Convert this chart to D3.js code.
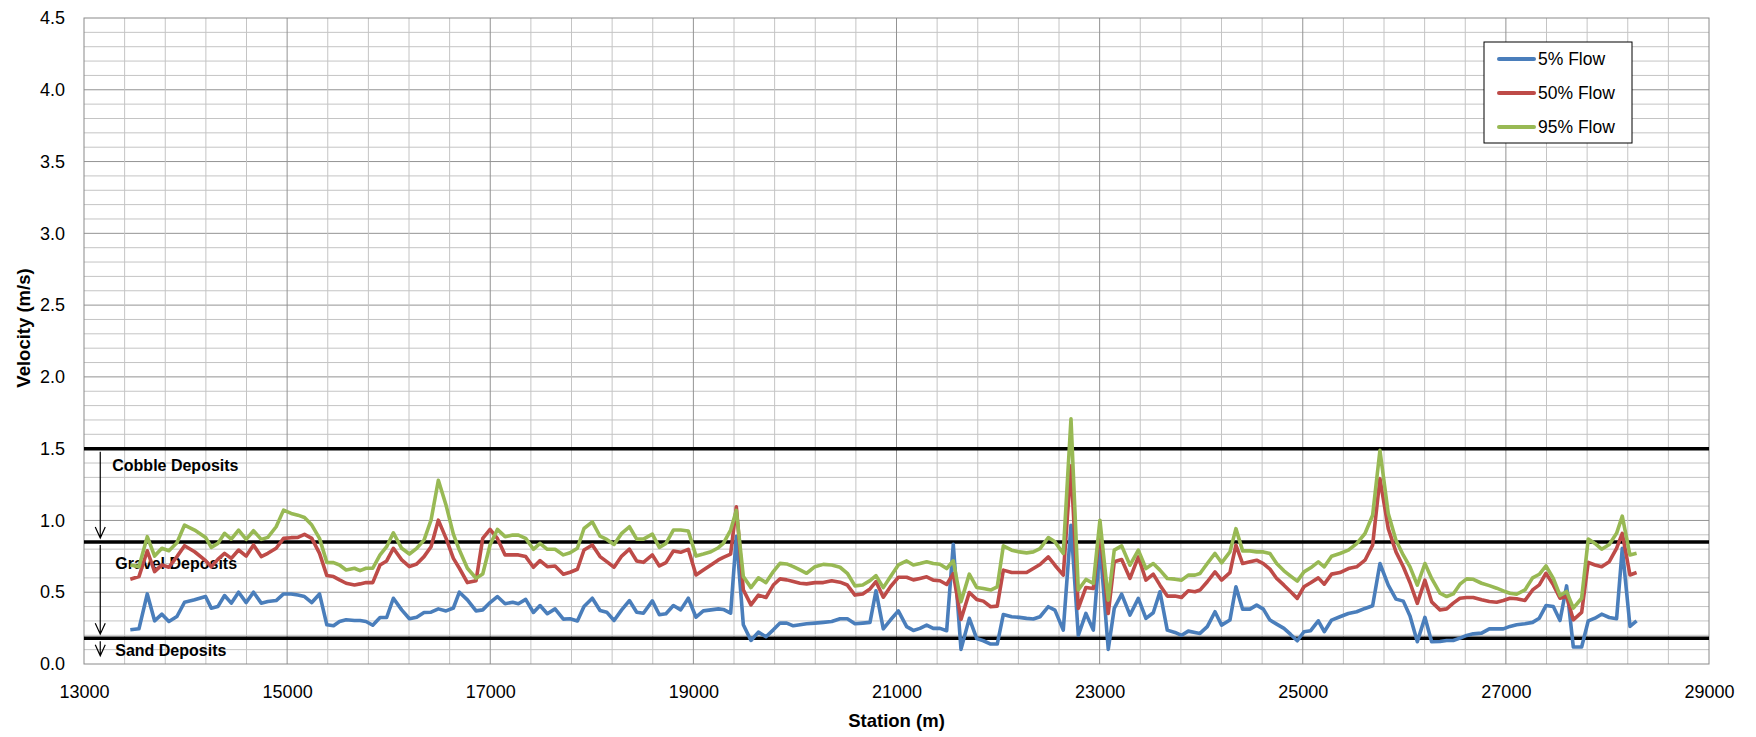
<!DOCTYPE html>
<html>
<head>
<meta charset="utf-8">
<script src="https://cdn.jsdelivr.net/npm/d3@7"></script>
<style>
  body { margin: 0; background: #fff; }
  text { font-family: 'Liberation Sans', Arial, sans-serif; }
</style>
</head>
<body>
<div class="chart"></div>
<script>
const stations = [
  13456, 13541, 13623, 13695, 13767, 13836, 13915, 13990, 14089, 14197, 14253, 14318, 14384, 14450, 14522, 14597,
  14669, 14745, 14810, 14892, 14965, 15040, 15106, 15171, 15243, 15319, 15391, 15457, 15516, 15581, 15663,
  15718, 15777, 15843, 15915, 15980, 16046, 16128, 16204, 16276, 16348, 16417, 16489, 16565, 16637, 16696, 16775,
  16860, 16926, 16998, 17070, 17146, 17221, 17277, 17349, 17425, 17490, 17562, 17638, 17720, 17786, 17858, 17923,
  18005, 18081, 18147, 18219, 18294, 18370, 18442, 18508,
  18596, 18665, 18730, 18803, 18875, 18950, 19026, 19098, 19173, 19246, 19295, 19367, 19423, 19492, 19567, 19640,
  19715, 19787, 19853, 19919, 19984, 20050, 20115, 20197, 20279, 20362, 20444, 20516, 20591, 20667, 20739, 20798,
  20870, 20942, 21018, 21100, 21166,
  21231, 21297, 21362, 21428, 21494, 21559, 21635, 21717, 21789, 21855, 21927, 21992, 22052, 22134, 22209, 22281,
  22347, 22413, 22495, 22560, 22642, 22718, 22790, 22865, 22938, 23003, 23085, 23144, 23217, 23299, 23381, 23456,
  23528, 23594, 23666, 23742, 23807, 23873, 23939,
  23988, 24060, 24136, 24201, 24283, 24342, 24408, 24480, 24546, 24612, 24677, 24743, 24815, 24881, 24946, 25012,
  25078, 25153, 25212, 25284, 25366, 25449, 25531, 25613, 25688, 25760, 25842, 25918, 25990, 26056, 26128, 26203,
  26269,
  26351, 26417, 26482, 26548, 26614, 26679, 26761, 26837, 26909, 26975, 27040, 27106, 27188, 27263, 27329, 27395,
  27467, 27533, 27598, 27664, 27746, 27811, 27877, 27943, 28018, 28090, 28146, 28222, 28287
];

const flow5 = [
  0.238, 0.245, 0.488, 0.301, 0.347, 0.296, 0.331, 0.43, 0.447, 0.47, 0.389, 0.40, 0.477, 0.424, 0.50, 0.428,
  0.50, 0.424, 0.435, 0.442, 0.488, 0.488, 0.48, 0.47, 0.428, 0.488, 0.273, 0.266, 0.296, 0.308, 0.303,
  0.303, 0.296, 0.27, 0.324, 0.324, 0.458, 0.377, 0.315, 0.326, 0.359, 0.361, 0.384, 0.37, 0.39, 0.50, 0.447,
  0.37, 0.377, 0.428, 0.47, 0.42, 0.43, 0.42, 0.45, 0.359, 0.407, 0.35, 0.384, 0.3125, 0.315, 0.30, 0.40,
  0.458, 0.373, 0.361, 0.303, 0.377, 0.442, 0.361, 0.354,
  0.44, 0.343, 0.35, 0.407, 0.377, 0.458, 0.326, 0.37, 0.377, 0.384, 0.38, 0.354, 0.89, 0.273, 0.164, 0.222,
  0.19, 0.238, 0.285, 0.285, 0.266, 0.273, 0.28, 0.285, 0.29, 0.296, 0.315, 0.315, 0.28, 0.285, 0.29, 0.51,
  0.245, 0.308, 0.37, 0.26, 0.234,
  0.248, 0.271, 0.248, 0.248, 0.232, 0.834, 0.102, 0.318, 0.178, 0.162, 0.139, 0.139, 0.345, 0.329, 0.325, 0.318,
  0.313, 0.329, 0.399, 0.375, 0.236, 0.967, 0.2, 0.352, 0.236, 0.832, 0.102, 0.387, 0.487, 0.341, 0.457, 0.318,
  0.357, 0.503, 0.236, 0.22, 0.2, 0.229, 0.22,
  0.213, 0.26, 0.364, 0.271, 0.306, 0.538, 0.382, 0.382, 0.41, 0.382, 0.306, 0.278, 0.248, 0.206, 0.162, 0.225,
  0.232, 0.301, 0.225, 0.306, 0.329, 0.352, 0.364, 0.387, 0.406, 0.70, 0.549, 0.452, 0.438, 0.334, 0.155, 0.325,
  0.155,
  0.157, 0.164, 0.164, 0.18, 0.199, 0.21, 0.215, 0.245, 0.245, 0.245, 0.262, 0.273, 0.28, 0.29, 0.319, 0.407,
  0.40, 0.303, 0.544, 0.118, 0.118, 0.30, 0.319, 0.347, 0.324, 0.315, 0.806, 0.262, 0.30
];

const flow50 = [
  0.59, 0.609, 0.789, 0.644, 0.69, 0.674, 0.748, 0.824, 0.782, 0.72, 0.678, 0.729, 0.771, 0.736, 0.794, 0.752,
  0.829, 0.748, 0.771, 0.806, 0.875, 0.88, 0.882, 0.903, 0.875, 0.771, 0.616, 0.609, 0.586, 0.5625, 0.551,
  0.558, 0.567, 0.567, 0.69, 0.718, 0.806, 0.725, 0.678, 0.697, 0.748, 0.817, 1.002, 0.875, 0.736, 0.667, 0.567,
  0.58, 0.875, 0.9375, 0.875, 0.76, 0.76, 0.76, 0.748, 0.674, 0.72, 0.678, 0.683, 0.625, 0.639, 0.66, 0.794,
  0.829, 0.748, 0.713, 0.674, 0.752, 0.80, 0.718, 0.708,
  0.76, 0.683, 0.706, 0.787, 0.778, 0.799, 0.62, 0.655, 0.69, 0.725, 0.743, 0.766, 1.095, 0.516, 0.412, 0.48,
  0.463, 0.55, 0.593, 0.586, 0.574, 0.5625, 0.558, 0.567, 0.567, 0.58, 0.57, 0.55, 0.48, 0.488, 0.523, 0.574,
  0.465, 0.54, 0.604, 0.604, 0.586,
  0.596, 0.607, 0.584, 0.58, 0.554, 0.63, 0.31, 0.498, 0.45, 0.438, 0.399, 0.403, 0.654, 0.637, 0.637, 0.637,
  0.665, 0.693, 0.746, 0.688, 0.619, 1.38, 0.387, 0.533, 0.526, 0.932, 0.352, 0.712, 0.728, 0.596, 0.746, 0.584,
  0.626, 0.549, 0.473, 0.473, 0.464, 0.51, 0.503,
  0.515, 0.573, 0.642, 0.584, 0.637, 0.828, 0.70, 0.712, 0.723, 0.70, 0.661, 0.596, 0.549, 0.503, 0.457, 0.538,
  0.566, 0.60, 0.556, 0.626, 0.637, 0.665, 0.677, 0.723, 0.828, 1.291, 0.943, 0.781, 0.677, 0.566, 0.422, 0.584,
  0.433,
  0.377, 0.384, 0.424, 0.458, 0.463, 0.463, 0.447, 0.435, 0.43, 0.442, 0.458, 0.454, 0.442, 0.516, 0.551, 0.632,
  0.551, 0.458, 0.47, 0.308, 0.359, 0.708, 0.69, 0.678, 0.713, 0.806, 0.91, 0.62, 0.637
];

const flow95 = [
  0.69, 0.678, 0.887, 0.752, 0.806, 0.789, 0.845, 0.968, 0.933, 0.882, 0.8125, 0.84, 0.91, 0.87, 0.933, 0.868,
  0.928, 0.868, 0.882, 0.956, 1.072, 1.049, 1.037, 1.021, 0.968, 0.875, 0.708, 0.706, 0.69, 0.655, 0.667,
  0.65, 0.667, 0.667, 0.76, 0.817, 0.914, 0.806, 0.766, 0.806, 0.863, 1.002, 1.28, 1.106, 0.905, 0.794, 0.667,
  0.597, 0.627, 0.829, 0.9375, 0.887, 0.898, 0.898, 0.875, 0.799, 0.84, 0.799, 0.799, 0.76, 0.775, 0.806, 0.944,
  0.99, 0.89, 0.868, 0.833, 0.91, 0.956, 0.87, 0.87,
  0.905, 0.8125, 0.84, 0.933, 0.933, 0.926, 0.752, 0.766, 0.782, 0.81, 0.84, 0.933, 1.07, 0.609, 0.532, 0.60,
  0.567, 0.644, 0.701, 0.697, 0.678, 0.655, 0.632, 0.678, 0.694, 0.69, 0.674, 0.632, 0.544, 0.55, 0.581, 0.616,
  0.532, 0.609, 0.69, 0.718, 0.69,
  0.70, 0.712, 0.70, 0.695, 0.665, 0.719, 0.433, 0.626, 0.533, 0.526, 0.515, 0.538, 0.823, 0.793, 0.781, 0.774,
  0.781, 0.804, 0.881, 0.851, 0.77, 1.708, 0.515, 0.589, 0.561, 1.001, 0.445, 0.793, 0.823, 0.688, 0.793, 0.665,
  0.70, 0.654, 0.596, 0.591, 0.584, 0.619, 0.619,
  0.63, 0.70, 0.77, 0.705, 0.781, 0.943, 0.788, 0.788, 0.781, 0.781, 0.77, 0.70, 0.649, 0.612, 0.577, 0.642,
  0.67, 0.712, 0.677, 0.751, 0.77, 0.793, 0.839, 0.909, 1.036, 1.488, 1.048, 0.862, 0.758, 0.677, 0.549, 0.70,
  0.596,
  0.493, 0.47, 0.488, 0.556, 0.593, 0.59, 0.5625, 0.546, 0.528, 0.509, 0.493, 0.486, 0.516, 0.60, 0.625, 0.683,
  0.597, 0.477, 0.505, 0.389, 0.458, 0.87, 0.84, 0.80, 0.833, 0.91, 1.03, 0.759, 0.771
];

const seriesNames = ['5% Flow', '50% Flow', '95% Flow'];
const xTicks = d3.range(13000, 29001, 2000);
const yTicks = d3.range(0, 4.51, 0.5);

// velocity thresholds for deposit types
const thresholds = [1.5, 0.85, 0.18];
const zones = [
  { label: 'Cobble Deposits', top: 1.5, bottom: 0.85 },
  { label: 'Gravel Deposits', top: 0.85, bottom: 0.18 },
  { label: 'Sand Deposits', top: 0.18, bottom: 0.03 }
];

const width = 1756;
const height = 737;
const plotLeft = 84, plotRight = 1709, plotTop = 18, plotBottom = 664;

const colors = d3.scaleOrdinal()
  .domain(seriesNames)
  .range(['#4a7ebb', '#be4b48', '#98b954']);

const x = d3.scaleLinear().domain([13000, 29000]).range([plotLeft, plotRight]);
const y = d3.scaleLinear().domain([0, 4.5]).range([plotBottom, plotTop]);

const svg = d3.select('.chart').append('svg')
  .attr('width', width)
  .attr('height', height);

svg.append('rect')
  .attr('width', width).attr('height', height).attr('fill', '#fff');

const grid = svg.append('g');
grid.selectAll('.hgrid')
  .data(d3.range(1, 45).map(i => i / 10))
  .enter()
  .append('line')
  .attr('x1', plotLeft).attr('x2', plotRight)
  .attr('y1', d => y(d)).attr('y2', d => y(d))
  .attr('stroke', d => Math.abs(d * 2 - Math.round(d * 2)) < 1e-6 ? '#939393' : '#c4c4c4')
  .attr('stroke-width', 1);
grid.selectAll('.vgrid')
  .data(d3.range(13400, 29000, 400))
  .enter()
  .append('line')
  .attr('y1', plotTop).attr('y2', plotBottom)
  .attr('x1', d => x(d)).attr('x2', d => x(d))
  .attr('stroke', d => (d - 13000) % 2000 === 0 ? '#939393' : '#c4c4c4')
  .attr('stroke-width', 1);

svg.append('rect')
  .attr('x', plotLeft).attr('y', plotTop)
  .attr('width', plotRight - plotLeft).attr('height', plotBottom - plotTop)
  .attr('fill', 'none')
  .attr('stroke', '#8a8a8a');

svg.append('g')
  .attr('transform', `translate(0,${plotBottom})`)
  .call(d3.axisBottom(x).tickValues(xTicks).tickFormat(d3.format('d')).tickSize(0).tickPadding(21))
  .call(g => g.select('.domain').remove())
  .selectAll('text')
  .attr('font-size', 18)
  .attr('font-family', "'Liberation Sans', Arial, sans-serif")
  .attr('fill', '#000');

svg.append('g')
  .attr('transform', `translate(${plotLeft},0)`)
  .call(d3.axisLeft(y).tickValues(yTicks).tickFormat(d3.format('.1f')).tickSize(0).tickPadding(19))
  .call(g => g.select('.domain').remove())
  .selectAll('text')
  .attr('font-size', 18)
  .attr('font-family', "'Liberation Sans', Arial, sans-serif")
  .attr('fill', '#000');

svg.append('text')
  .attr('x', (plotLeft + plotRight) / 2)
  .attr('y', 727)
  .attr('text-anchor', 'middle')
  .attr('font-size', 18.5)
  .attr('font-weight', 'bold')
  .text('Station (m)');

svg.append('text')
  .attr('transform', 'translate(30,328) rotate(-90)')
  .attr('text-anchor', 'middle')
  .attr('font-size', 18.5)
  .attr('font-weight', 'bold')
  .text('Velocity (m/s)');

// threshold lines
svg.append('g').selectAll('line')
  .data(thresholds)
  .enter()
  .append('line')
  .attr('x1', plotLeft).attr('x2', plotRight)
  .attr('y1', d => y(d)).attr('y2', d => y(d))
  .attr('stroke', '#000')
  .attr('stroke-width', 3.5);

const arrowX = x(13160);
const zoneG = svg.append('g');
zoneG.selectAll('.arrow')
  .data(zones)
  .enter()
  .append('path')
  .attr('d', d => {
    const y1 = y(d.top) + 3;
    const y2 = y(d.bottom) - 4;
    return `M${arrowX},${y1}V${y2}M${arrowX - 5},${y2 - 11}L${arrowX},${y2}L${arrowX + 5},${y2 - 11}`;
  })
  .attr('fill', 'none')
  .attr('stroke', '#000')
  .attr('stroke-width', 1.2);

zoneG.selectAll('.zlabel')
  .data(zones)
  .enter()
  .append('text')
  .attr('x', (d, i) => arrowX + (i === 0 ? 12 : 15))
  .attr('y', (d, i) => [471, 569, 656][i])
  .attr('font-size', 16)
  .attr('font-weight', 'bold')
  .text(d => d.label);

const line = d3.line()
  .x((d, i) => x(stations[i]))
  .y(d => y(d));

svg.append('g').selectAll('path')
  .data([flow5, flow50, flow95])
  .enter()
  .append('path')
  .attr('d', d => line(d))
  .attr('fill', 'none')
  .attr('stroke', (d, i) => colors(seriesNames[i]))
  .attr('stroke-width', 3.6)
  .attr('stroke-linejoin', 'round');

const legend = svg.append('g');
legend.append('rect')
  .attr('x', 1484).attr('y', 42)
  .attr('width', 148).attr('height', 101)
  .attr('fill', '#fff')
  .attr('stroke', '#000')
  .attr('stroke-width', 1);

const item = legend.selectAll('.item')
  .data(seriesNames)
  .enter()
  .append('g')
  .attr('transform', (d, i) => `translate(1499,${59 + i * 34})`);
item.append('line')
  .attr('x1', 0).attr('x2', 35)
  .attr('stroke', d => colors(d))
  .attr('stroke-width', 4)
  .attr('stroke-linecap', 'round');
item.append('text')
  .attr('x', 39)
  .attr('y', 6)
  .attr('font-size', 17.5)
  .text(d => d);
</script>
</body>
</html>
